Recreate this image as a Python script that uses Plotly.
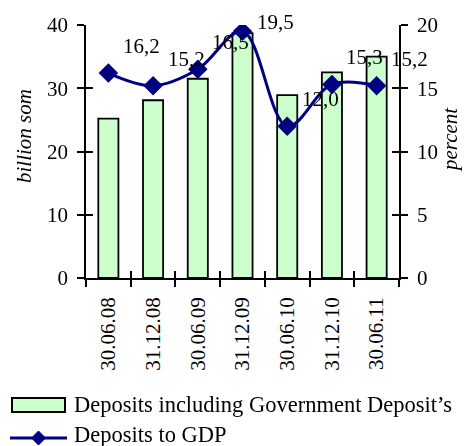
import plotly.graph_objects as go

categories = ["30.06.08", "31.12.08", "30.06.09", "31.12.09", "30.06.10", "31.12.10", "30.06.11"]
deposits = [25.2, 28.1, 31.5, 38.7, 28.9, 32.5, 35.0]
dep_to_gdp = [16.2, 15.2, 16.5, 19.5, 12.0, 15.3, 15.2]
gdp_labels = ["16,2", "15,2", "16,5", "19,5", "12,0", "15,3", "15,2"]
bar_name = "Deposits including Government Deposit\u2019s"
line_name = "Deposits to GDP"

FONT = "Liberation Serif"
FS = 21
NAVY = "#000080"

# plot area in pixels: x 86..399, y 25..278
L, R, T, B = 86, 399, 25, 278
def px(x):
    return (x - L) / (R - L)
def py(y):
    return (B - y) / (B - T)

fig = go.Figure()
fig.add_trace(go.Bar(
    x=categories, y=deposits, name=bar_name,
    marker=dict(color="#CCFFCC", line=dict(color="black", width=1.8)),
    xaxis="x", yaxis="y", showlegend=False,
))
fig.add_trace(go.Scatter(
    x=categories, y=dep_to_gdp, name=line_name, mode="lines+markers",
    line=dict(color=NAVY, width=3, shape="spline", smoothing=1),
    marker=dict(symbol="diamond", size=15, color=NAVY),
    xaxis="x", yaxis="y2", showlegend=False,
))
# invisible traces to carry the inner tick halves
fig.add_trace(go.Scatter(x=categories, y=deposits, mode="markers", opacity=0,
                         xaxis="x2", yaxis="y3", showlegend=False, hoverinfo="skip"))
fig.add_trace(go.Scatter(x=categories, y=dep_to_gdp, mode="markers", opacity=0,
                         xaxis="x2", yaxis="y4", showlegend=False, hoverinfo="skip"))

for c, v, t in zip(categories, dep_to_gdp, gdp_labels):
    ys = 9 if v > 19 else 27
    fig.add_annotation(x=c, y=v, xref="x", yref="y2", text=t, showarrow=False,
                       xanchor="center", yanchor="middle",
                       xshift=33, yshift=ys, font=dict(family=FONT, size=FS, color="black"))

ann_font = dict(family=FONT, size=FS, color="black")
leg_font = dict(family=FONT, size=22.5, color="black")
# axis titles
fig.add_annotation(x=px(24), y=py(136), xref="paper", yref="paper", text="<i>billion som</i>",
                   textangle=-90, showarrow=False, xanchor="center", yanchor="middle", font=ann_font)
fig.add_annotation(x=px(450), y=py(140), xref="paper", yref="paper", text="<i>percent</i>",
                   textangle=-90, showarrow=False, xanchor="center", yanchor="middle", font=ann_font)

# legend (drawn manually to match wide swatches)
fig.add_shape(type="rect", xref="paper", yref="paper", x0=px(12), x1=px(65), y0=py(412), y1=py(398),
              fillcolor="#CCFFCC", line=dict(color="black", width=2))
fig.add_shape(type="line", xref="paper", yref="paper", x0=px(10), x1=px(67), y0=py(438), y1=py(438),
              line=dict(color=NAVY, width=3))
fig.add_shape(type="path", xref="paper", yref="paper", xsizemode="pixel", ysizemode="pixel",
              xanchor=px(38.5), yanchor=py(438), path="M -7 0 L 0 7 L 7 0 L 0 -7 Z",
              fillcolor=NAVY, line=dict(color=NAVY, width=1))
fig.add_annotation(x=px(72), y=py(404), xref="paper", yref="paper", text=bar_name,
                   xanchor="left", yanchor="middle", showarrow=False, font=leg_font)
fig.add_annotation(x=px(72), y=py(434), xref="paper", yref="paper", text=line_name,
                   xanchor="left", yanchor="middle", showarrow=False, font=leg_font)

tick_common = dict(tickcolor="black", tickwidth=1.5, ticklen=7, showgrid=False, zeroline=False)
xrange = [-0.5, len(categories) - 0.5]

fig.update_layout(
    width=464, height=446,
    margin=dict(l=L, r=464 - R, t=T, b=446 - B, autoexpand=False),
    paper_bgcolor="white", plot_bgcolor="white",
    font=dict(family=FONT, size=FS, color="black"),
    bargap=0.55,
    showlegend=False,
    xaxis=dict(range=xrange, showline=True, linecolor="black", linewidth=1.5, ticks="outside",
               tickson="boundaries", tickangle=-90, ticklabelstandoff=9,
               tickfont=dict(family=FONT, size=FS), automargin=False, **tick_common),
    xaxis2=dict(range=xrange, overlaying="x", ticks="inside", tickson="boundaries",
                showticklabels=False, showline=False, side="bottom", anchor="y3",
                automargin=False, **tick_common),
    yaxis=dict(range=[0, 40], dtick=10, showline=True, linecolor="black", linewidth=1.5,
               ticks="outside", ticklabelstandoff=5, tickfont=dict(family=FONT, size=FS),
               automargin=False, **tick_common),
    yaxis2=dict(range=[0, 20], dtick=5, overlaying="y", side="right", showline=True,
                linecolor="black", linewidth=1.5, ticks="outside", ticklabelstandoff=5,
                tickfont=dict(family=FONT, size=FS), automargin=False, **tick_common),
    yaxis3=dict(range=[0, 40], dtick=10, overlaying="y", side="left", ticks="inside",
                showticklabels=False, showline=False, anchor="x2", automargin=False, **tick_common),
    yaxis4=dict(range=[0, 20], dtick=5, overlaying="y", side="right", ticks="inside",
                showticklabels=False, showline=False, anchor="x2", automargin=False, **tick_common),
)

fig.write_html("out.html", config={"displayModeBar": False},
               post_script="document.body.style.margin='0';")
